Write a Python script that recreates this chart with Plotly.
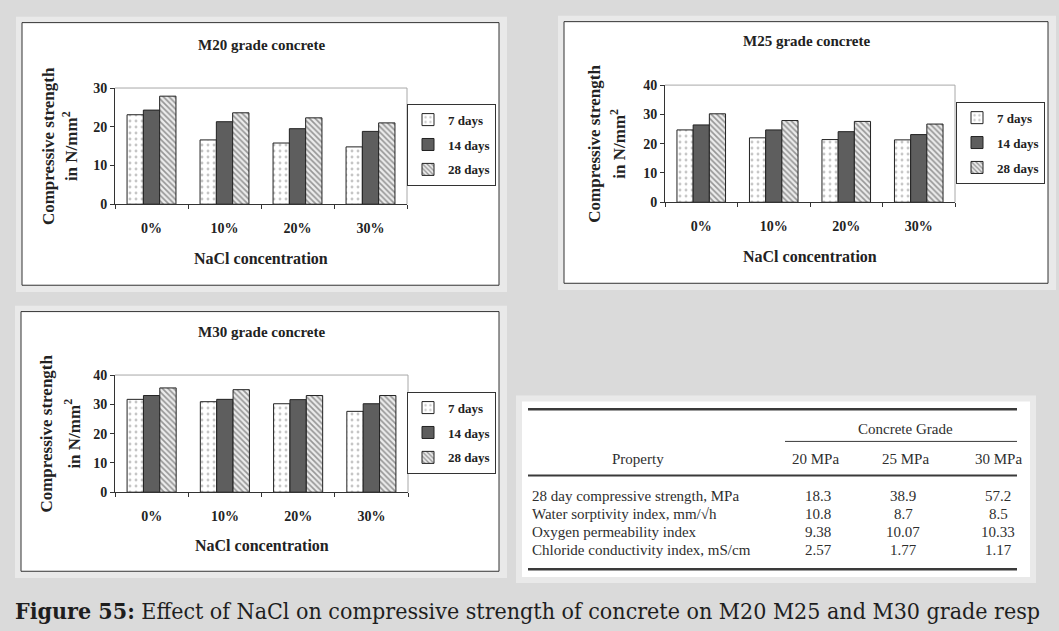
import plotly.graph_objects as go

W, H = 1059, 631

# ---- data -------------------------------------------------------------
categories = ["0%", "10%", "20%", "30%"]
ages = ["7 days", "14 days", "28 days"]

m20_7d = [23.1, 16.6, 15.8, 14.8]
m20_14d = [24.3, 21.3, 19.5, 18.8]
m20_28d = [27.9, 23.6, 22.3, 21.0]

m25_7d = [24.7, 22.0, 21.4, 21.3]
m25_14d = [26.4, 24.7, 24.1, 23.1]
m25_28d = [30.2, 27.9, 27.6, 26.7]

m30_7d = [31.7, 30.9, 30.2, 27.6]
m30_14d = [33.0, 31.7, 31.6, 30.2]
m30_28d = [35.6, 35.0, 33.0, 33.0]

chart_titles = ["M20 grade concrete", "M25 grade concrete", "M30 grade concrete"]
ticks_m20 = [0, 10, 20, 30]
ticks_m25 = [0, 10, 20, 30, 40]
ticks_m30 = [0, 10, 20, 30, 40]

table_properties = [
    "28 day compressive strength, MPa",
    "Water sorptivity index, mm/\u221ah",
    "Oxygen permeability index",
    "Chloride conductivity index, mS/cm",
]
table_grades = ["20 MPa", "25 MPa", "30 MPa"]
table_20mpa = ["18.3", "10.8", "9.38", "2.57"]
table_25mpa = ["38.9", "8.7", "10.07", "1.77"]
table_30mpa = ["57.2", "8.5", "10.33", "1.17"]

caption_bold = "Figure 55:"
caption_text = "Effect of NaCl on compressive strength of concrete on M20 M25 and M30 grade resp"


# ---- helpers ------------------------------------------------------------
def fx(x):
    return x / W


def fy(y):
    return 1 - y / H


SERIF = "Liberation Serif, Times New Roman, serif"
INK = "#222"
BAR_STYLES = [
    dict(color="white", line=dict(color=INK, width=1),
         pattern=dict(shape=".", fgcolor="#8c8c8c", size=6, solidity=0.18, fillmode="overlay")),
    dict(color="#5e5e5e", line=dict(color=INK, width=1)),
    dict(color="#ececec", line=dict(color=INK, width=1),
         pattern=dict(shape="\\", fgcolor="#404040", size=4, solidity=0.42, fillmode="overlay")),
]

panels = [
    dict(series=[m20_7d, m20_14d, m20_28d], ticks=ticks_m20, title=chart_titles[0],
         box=(22, 16, 499, 285), plot=(115, 83, 407, 202), legend=(496, 99),
         ytx=(48, 70), title_x=262, title_y=39, xt_y=258),
    dict(series=[m25_7d, m25_14d, m25_28d], ticks=ticks_m25, title=chart_titles[1],
         box=(564, 15, 1048, 283), plot=(665, 80, 955, 200), legend=(1045, 97),
         ytx=(595, 618), title_x=807, title_y=35, xt_y=256),
    dict(series=[m30_7d, m30_14d, m30_28d], ticks=ticks_m30, title=chart_titles[2],
         box=(21, 312, 499, 578), plot=(115, 377, 408, 497), legend=(496, 394),
         ytx=(47, 72), title_x=262, title_y=333, xt_y=552),
]

fig = go.Figure()
shapes = []
annotations = []
layout_axes = {}


def bold(size):
    return dict(family=SERIF, size=size, color=INK, weight="bold")


for i, p in enumerate(panels, start=1):
    sfx = "" if i == 1 else str(i)
    leg = "legend" if i == 1 else f"legend{i}"
    x0, y0, x1, y1 = p["plot"]
    bx0, by0, bx1, by1 = p["box"]

    # soft surround and white card
    shapes.append(dict(type="rect", xref="paper", yref="paper", layer="below",
                       x0=fx(bx0 - 6), x1=fx(bx1 + 8), y0=fy(by1 + 7), y1=fy(by0 - 6),
                       fillcolor="#e9e9e9", line=dict(width=0)))
    shapes.append(dict(type="rect", xref="paper", yref="paper", layer="below",
                       x0=fx(bx0), x1=fx(bx1), y0=fy(by1), y1=fy(by0),
                       fillcolor="white", line=dict(color="#333", width=1)))

    for age, vals, style in zip(ages, p["series"], BAR_STYLES):
        fig.add_trace(go.Bar(
            x=categories, y=vals, name=age, marker=style,
            xaxis=f"x{sfx}", yaxis=f"y{sfx}", legend=leg,
            legendgroup=f"{age}-{i}", showlegend=True,
        ))

    ymax = p["ticks"][-1]
    layout_axes[f"xaxis{sfx}"] = dict(
        domain=[fx(x0), fx(x1)], anchor=f"y{sfx}", type="category",
        showline=True, linecolor="#333", linewidth=1,
        ticks="outside", tickson="boundaries", ticklen=4, tickcolor="#333",
        ticklabelstandoff=11, showgrid=False, tickfont=bold(14),
    )
    layout_axes[f"yaxis{sfx}"] = dict(
        domain=[fy(y1), fy(y0)], anchor=f"x{sfx}", range=[0, ymax],
        tickvals=p["ticks"], showline=True, linecolor="#333", linewidth=1,
        ticks="outside", ticklen=4, tickcolor="#333", showgrid=False, zeroline=False,
        tickfont=bold(14),
    )

    # light frame on the top and right of the plot area
    shapes.append(dict(type="line", xref=f"x{sfx} domain", yref=f"y{sfx} domain",
                       x0=0, x1=1, y0=1, y1=1, line=dict(color="#a8a8a8", width=1)))
    shapes.append(dict(type="line", xref=f"x{sfx} domain", yref=f"y{sfx} domain",
                       x0=1, x1=1, y0=0, y1=1, line=dict(color="#a8a8a8", width=1)))

    layout_axes[leg] = dict(
        x=fx(p["legend"][0]), y=fy(p["legend"][1]), xanchor="right", yanchor="top",
        xref="paper", yref="paper", bgcolor="white", bordercolor="#333", borderwidth=1,
        font=bold(13), itemwidth=30, tracegroupgap=5, traceorder="grouped",
    )

    annotations.append(dict(text=p["title"], x=fx(p["title_x"]), y=fy(p["title_y"]),
                            xref="paper", yref="paper", showarrow=False,
                            xanchor="center", yanchor="middle", font=bold(15)))
    annotations.append(dict(text="NaCl concentration", x=fx((x0 + x1) / 2), y=fy(p["xt_y"]),
                            xref="paper", yref="paper", showarrow=False,
                            xanchor="center", yanchor="middle", font=bold(16)))
    ymid = (y0 + y1) / 2
    annotations.append(dict(text="Compressive strength", x=fx(p["ytx"][0]), y=fy(ymid),
                            xref="paper", yref="paper", showarrow=False, textangle=-90,
                            xanchor="center", yanchor="middle", font=bold(17)))
    annotations.append(dict(text="in N/mm<sup>2</sup>", x=fx(p["ytx"][1]), y=fy(ymid),
                            xref="paper", yref="paper", showarrow=False, textangle=-90,
                            xanchor="center", yanchor="middle", font=bold(17)))

# ---- property table ------------------------------------------------------
TX0, TX1 = 528, 1017
shapes.append(dict(type="rect", xref="paper", yref="paper", layer="below",
                   x0=fx(516), x1=fx(1036), y0=fy(590), y1=fy(398),
                   fillcolor="#e9e9e9", line=dict(width=0)))
shapes.append(dict(type="rect", xref="paper", yref="paper", layer="below",
                   x0=fx(522), x1=fx(1030), y0=fy(584), y1=fy(404),
                   fillcolor="white", line=dict(width=0)))
for yy, w, xa in [(412, 2.5, TX0), (445, 1, 785), (480, 2, TX0), (576, 2.5, TX0)]:
    shapes.append(dict(type="line", xref="paper", yref="paper",
                       x0=fx(xa), x1=fx(TX1), y0=fy(yy), y1=fy(yy),
                       line=dict(color="#3a3a3a", width=w)))

TFONT = dict(family=SERIF, size=15, color="#2e2e2e")
annotations.append(dict(text="Concrete Grade", x=fx(905), y=fy(432), xref="paper", yref="paper",
                        showarrow=False, xanchor="center", yanchor="middle", font=TFONT))
annotations.append(dict(text="Property", x=fx(638), y=fy(463), xref="paper", yref="paper",
                        showarrow=False, xanchor="center", yanchor="middle", font=TFONT))
grade_cols = [815, 905, 998]
for g, gx in zip(table_grades, grade_cols):
    annotations.append(dict(text=g, x=fx(gx), y=fy(463), xref="paper", yref="paper",
                            showarrow=False, xanchor="center", yanchor="middle", font=TFONT))

row_y = [501, 519, 538, 556]
value_cols = [818, 903, 998]
for r, (prop, ry) in enumerate(zip(table_properties, row_y)):
    annotations.append(dict(text=prop, x=fx(530), y=fy(ry), xref="paper", yref="paper",
                            showarrow=False, xanchor="left", yanchor="middle", font=TFONT))
    for col, vx in zip([table_20mpa, table_25mpa, table_30mpa], value_cols):
        annotations.append(dict(text=col[r], x=fx(vx), y=fy(ry), xref="paper", yref="paper",
                                showarrow=False, xanchor="center", yanchor="middle",
                                font=TFONT))

# ---- caption -------------------------------------------------------------
annotations.append(dict(text=f"<b>{caption_bold}</b> {caption_text}", x=fx(13), y=fy(618),
                        xref="paper", yref="paper", showarrow=False,
                        xanchor="left", yanchor="middle",
                        font=dict(family="DejaVu Serif Condensed, DejaVu Serif, serif",
                                  size=23, color="#1e1e1e")))

fig.update_layout(
    width=W, height=H, margin=dict(l=0, r=0, t=0, b=0),
    paper_bgcolor="#dadada", plot_bgcolor="white",
    barmode="group", bargap=0.33, bargroupgap=0,
    shapes=shapes, annotations=annotations,
    **layout_axes,
)

fig.write_html("out.html")
